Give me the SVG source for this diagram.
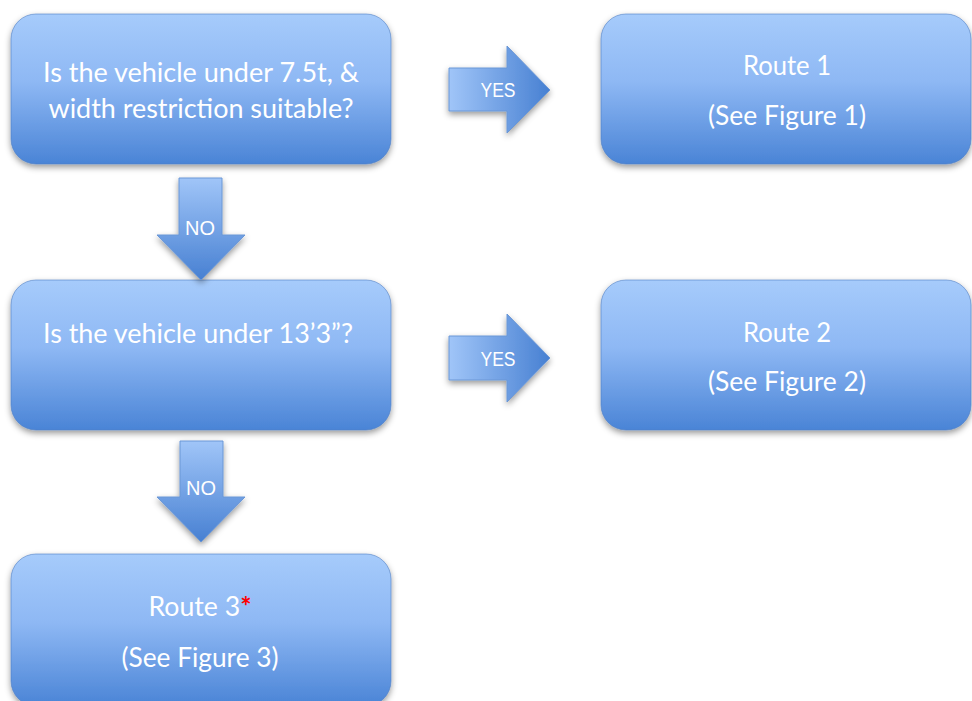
<svg xmlns="http://www.w3.org/2000/svg" width="972" height="701" viewBox="0 0 972 701">
<defs>
<linearGradient id="boxGrad" x1="0" y1="0" x2="0" y2="1">
<stop offset="0" stop-color="#a6cbfb"/>
<stop offset="0.45" stop-color="#8eb8f4"/>
<stop offset="1" stop-color="#4a84d6"/>
</linearGradient>
<linearGradient id="yesGrad" x1="0" y1="0" x2="1" y2="0">
<stop offset="0" stop-color="#a0c5f8"/>
<stop offset="1" stop-color="#4780d2"/>
</linearGradient>
<linearGradient id="noGrad" x1="0" y1="0" x2="0" y2="1">
<stop offset="0" stop-color="#a0c5f8"/>
<stop offset="1" stop-color="#4780d2"/>
</linearGradient>
<filter id="shadow" x="-10%" y="-10%" width="120%" height="130%">
<feDropShadow dx="0" dy="3" stdDeviation="3" flood-color="#000" flood-opacity="0.4"/>
</filter>
</defs>
<style>
.box{fill:url(#boxGrad);stroke:#4f7fc4;stroke-opacity:0.6;stroke-width:1;filter:url(#shadow)}
.yes{fill:url(#yesGrad);stroke:#6b97d6;stroke-width:1;filter:url(#shadow)}
.no{fill:url(#noGrad);stroke:#6b97d6;stroke-width:1;filter:url(#shadow)}
.t{font-family:Lato,"Open Sans","Liberation Sans",sans-serif;font-size:27px;fill:#ffffff;text-anchor:middle}
.lbl{font-family:"Liberation Sans",Arial,sans-serif;font-size:20px;fill:#ffffff;text-anchor:middle}
</style>

<g id="q1">
<rect class="box" x="11" y="14" width="380" height="150" rx="25" ry="25"/>
<text class="t" x="201" y="82" textLength="316" lengthAdjust="spacingAndGlyphs">Is the vehicle under 7.5t, &amp;</text>
<text class="t" x="201" y="118" textLength="305" lengthAdjust="spacingAndGlyphs">width restriction suitable?</text>
</g>

<g id="route1">
<rect class="box" x="601" y="14" width="370" height="150" rx="25" ry="25"/>
<text class="t" x="787" y="75" textLength="88" lengthAdjust="spacingAndGlyphs">Route 1</text>
<text class="t" x="787" y="125" textLength="158" lengthAdjust="spacingAndGlyphs">(See Figure 1)</text>
</g>

<g id="q2">
<rect class="box" x="11" y="280" width="380" height="150" rx="25" ry="25"/>
<text class="t" x="198" y="343" textLength="310" lengthAdjust="spacingAndGlyphs">Is the vehicle under 13’3”?</text>
</g>

<g id="route2">
<rect class="box" x="601" y="280" width="370" height="150" rx="25" ry="25"/>
<text class="t" x="787" y="342" textLength="88" lengthAdjust="spacingAndGlyphs">Route 2</text>
<text class="t" x="787" y="391" textLength="158" lengthAdjust="spacingAndGlyphs">(See Figure 2)</text>
</g>

<g id="route3">
<rect class="box" x="11" y="554" width="380" height="152" rx="25" ry="25"/>
<text class="t" x="200" y="616" textLength="103" lengthAdjust="spacingAndGlyphs">Route 3<tspan fill="#ff0000" font-weight="bold">*</tspan></text>
<text class="t" x="200" y="667" textLength="157" lengthAdjust="spacingAndGlyphs">(See Figure 3)</text>
</g>

<g id="connectors">
<g id="yes1">
<polygon class="yes" points="449,68 507,68 507,46 550,90 507,133 507,111 449,111"/>
<text class="lbl" x="498" y="97" textLength="35" lengthAdjust="spacingAndGlyphs">YES</text>
</g>
<g id="yes2">
<polygon class="yes" points="449,336 507,336 507,314 550,358 507,402 507,380 449,380"/>
<text class="lbl" x="498" y="366" textLength="35" lengthAdjust="spacingAndGlyphs">YES</text>
</g>
<g id="no1">
<polygon class="no" points="179,178 222,178 222,235 245,235 201,280 157,235 179,235"/>
<text class="lbl" x="200" y="235">NO</text>
</g>
<g id="no2">
<polygon class="no" points="180,441 223,441 223,497 245,497 201,542 157,497 180,497"/>
<text class="lbl" x="201" y="495">NO</text>
</g>
</g>
</svg>
